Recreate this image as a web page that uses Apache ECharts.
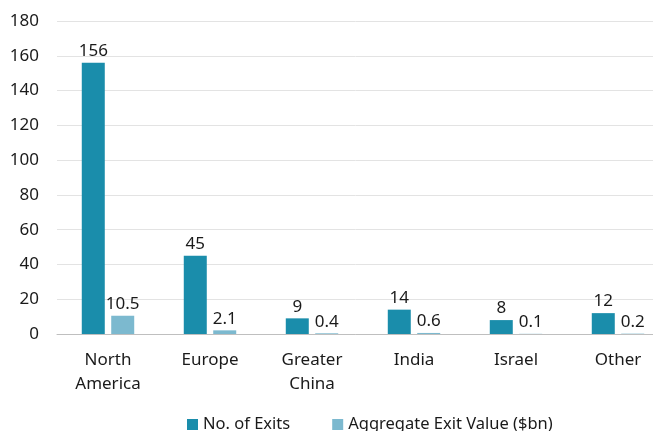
<!DOCTYPE html>
<html>
<head>
    <meta charset="UTF-8">
    <title>Exits by region</title>
    <script src="https://cdn.jsdelivr.net/npm/echarts/dist/echarts.min.js"></script>
    <style>
        html, body { margin: 0; padding: 0; background: #fff; }
        #main { width: 653px; height: 431px; }
    </style>
</head>
<body>
    <div id="main"></div>
    <script>
        // data
        const regions = ['North\nAmerica', 'Europe', 'Greater\nChina', 'India', 'Israel', 'Other'];
        const exitCounts = [156, 45, 9, 14, 8, 12];
        const exitValues = [10.5, 2.1, 0.4, 0.6, 0.1, 0.2];

        const dark = '#1a8dab';
        const light = '#7cb9cf';
        const font = 'Noto Sans';

        const chart = echarts.init(document.getElementById('main'));
        const labelStyle = {
            show: true,
            position: 'top',
            distance: 3,
            color: '#1a1a1a',
            fontFamily: font,
            fontSize: 17
        };

        chart.setOption({
            animation: false,
            textStyle: { fontFamily: font },
            // plot area runs past the right edge of the picture, as in the reference
            grid: { left: 57, width: 612, top: 21, bottom: 97, containLabel: false, outerBoundsMode: 'none' },
            legend: {
                left: 182,
                top: 411,
                itemWidth: 11,
                itemHeight: 11,
                itemGap: 42,
                icon: 'rect',
                textStyle: { fontFamily: font, fontSize: 16.5, color: '#1a1a1a' },
                data: ['No. of Exits', 'Aggregate Exit Value ($bn)']
            },
            xAxis: {
                type: 'category',
                data: regions,
                axisLine: { lineStyle: { color: '#bfbfbf', width: 1 } },
                axisTick: { show: false },
                axisLabel: {
                    color: '#1a1a1a',
                    fontFamily: font,
                    fontSize: 17,
                    margin: 14,
                    lineHeight: 24
                }
            },
            yAxis: {
                type: 'value',
                min: 0,
                max: 180,
                interval: 20,
                axisLine: { show: false },
                axisTick: { show: false },
                splitLine: { lineStyle: { color: '#e3e3e3', width: 1 } },
                axisLabel: {
                    color: '#1a1a1a',
                    fontFamily: font,
                    fontSize: 17,
                    margin: 18
                }
            },
            series: [
                {
                    name: 'No. of Exits',
                    type: 'bar',
                    data: exitCounts,
                    barWidth: 23,
                    barGap: '28%',
                    itemStyle: { color: dark },
                    label: labelStyle
                },
                {
                    name: 'Aggregate Exit Value ($bn)',
                    type: 'bar',
                    data: exitValues,
                    barWidth: 23,
                    itemStyle: { color: light },
                    label: labelStyle
                }
            ]
        });
    </script>
</body>
</html>
